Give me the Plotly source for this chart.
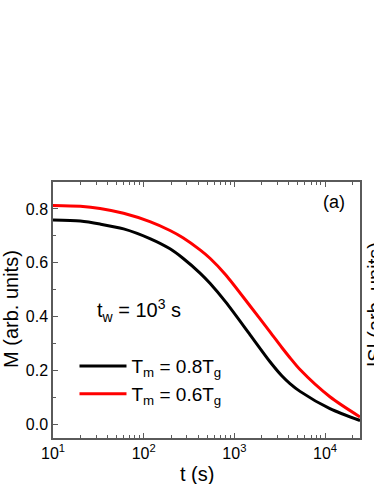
import plotly.graph_objects as go

# time (s)
t = [10, 20, 33, 60, 117, 195, 271, 418, 538, 800, 1490, 2470, 3350, 4100, 5290, 11300, 24300]
m_08 = [0.759, 0.755, 0.744, 0.726, 0.690, 0.652, 0.617, 0.562, 0.524, 0.455, 0.333, 0.233, 0.18, 0.152, 0.123, 0.059, 0.015]
m_06 = [0.813, 0.810, 0.802, 0.784, 0.753, 0.72, 0.693, 0.648, 0.617, 0.556, 0.44, 0.344, 0.285, 0.248, 0.204, 0.103, 0.028]

x_tickvals = [10, 100, 1000, 10000]
x_ticktext = ["10<sup>1</sup>", "10<sup>2</sup>", "10<sup>3</sup>", "10<sup>4</sup>"]

FONT = "Liberation Sans, Arial, sans-serif"
AXC = "#5a5a5a"

fig = go.Figure()
fig.add_trace(go.Scatter(x=t, y=m_08, mode="lines", line=dict(color="black", width=3, shape="spline", smoothing=0.8),
                         name="T<sub>m</sub> = 0.8T<sub>g</sub>"))
fig.add_trace(go.Scatter(x=t, y=m_06, mode="lines", line=dict(color="#ff0000", width=3, shape="spline", smoothing=0.8),
                         name="T<sub>m</sub> = 0.6T<sub>g</sub>"))

fig.update_layout(
    width=374, height=484,
    margin=dict(l=53, r=14, t=182, b=46),
    paper_bgcolor="white", plot_bgcolor="white",
    font=dict(family=FONT, color="black"),
    showlegend=True,
    legend=dict(x=0.07, y=0.355, xanchor="left", yanchor="top", bgcolor="rgba(0,0,0,0)",
                font=dict(size=19, family=FONT), itemwidth=47, tracegroupgap=0),
    xaxis=dict(type="log", range=[1, 4.385], tickmode="array", tickvals=x_tickvals, ticktext=x_ticktext,
               ticks="inside", ticklen=5, tickwidth=1.2, tickcolor=AXC,
               minor=dict(dtick="D1", ticks="inside", ticklen=3, tickwidth=1, tickcolor=AXC),
               showline=True, linecolor=AXC, linewidth=1.5, mirror="ticks", showgrid=False, zeroline=False,
               tickfont=dict(size=16, family=FONT)),
    yaxis=dict(range=[-0.05, 0.9], tickmode="linear", tick0=0, dtick=0.2, tickformat=".1f",
               ticks="inside", ticklen=5, tickwidth=1.2, tickcolor=AXC,
               minor=dict(dtick=0.1, ticks="inside", ticklen=3, tickwidth=1, tickcolor=AXC),
               showline=True, linecolor=AXC, linewidth=1.5, mirror=True, showgrid=False, zeroline=False,
               tickfont=dict(size=16, family=FONT)),
)

pw = 374 - 53 - 14
ph = 484 - 182 - 46
def px(x):
    return (x - 53) / pw
def py(y):
    return (484 - 46 - y) / ph

annots = [
    dict(text="t (s)", x=px(197), y=py(474), font=dict(size=20)),
    dict(text="M (arb. units)", x=px(11), y=py(309), font=dict(size=20), textangle=-90),
    dict(text="|S| (arb. units)", x=px(375), y=py(305), font=dict(size=20), textangle=-90),
    dict(text="t<sub>w</sub> = 10<sup>3</sup> s", x=px(139), y=py(310), font=dict(size=20)),
    dict(text="(a)", x=px(334), y=py(202), font=dict(size=18)),
]
for a in annots:
    fig.add_annotation(xref="paper", yref="paper", showarrow=False, xanchor="center", yanchor="middle",
                       font_family=FONT, **a)

fig.write_html("out.html", config={"displayModeBar": False})

with open("out.html", "r", encoding="utf-8") as f:
    html = f.read()
html = html.replace("<head>", "<head><style>html,body{margin:0;padding:0;overflow:hidden;}</style>", 1)
with open("out.html", "w", encoding="utf-8") as f:
    f.write(html)
